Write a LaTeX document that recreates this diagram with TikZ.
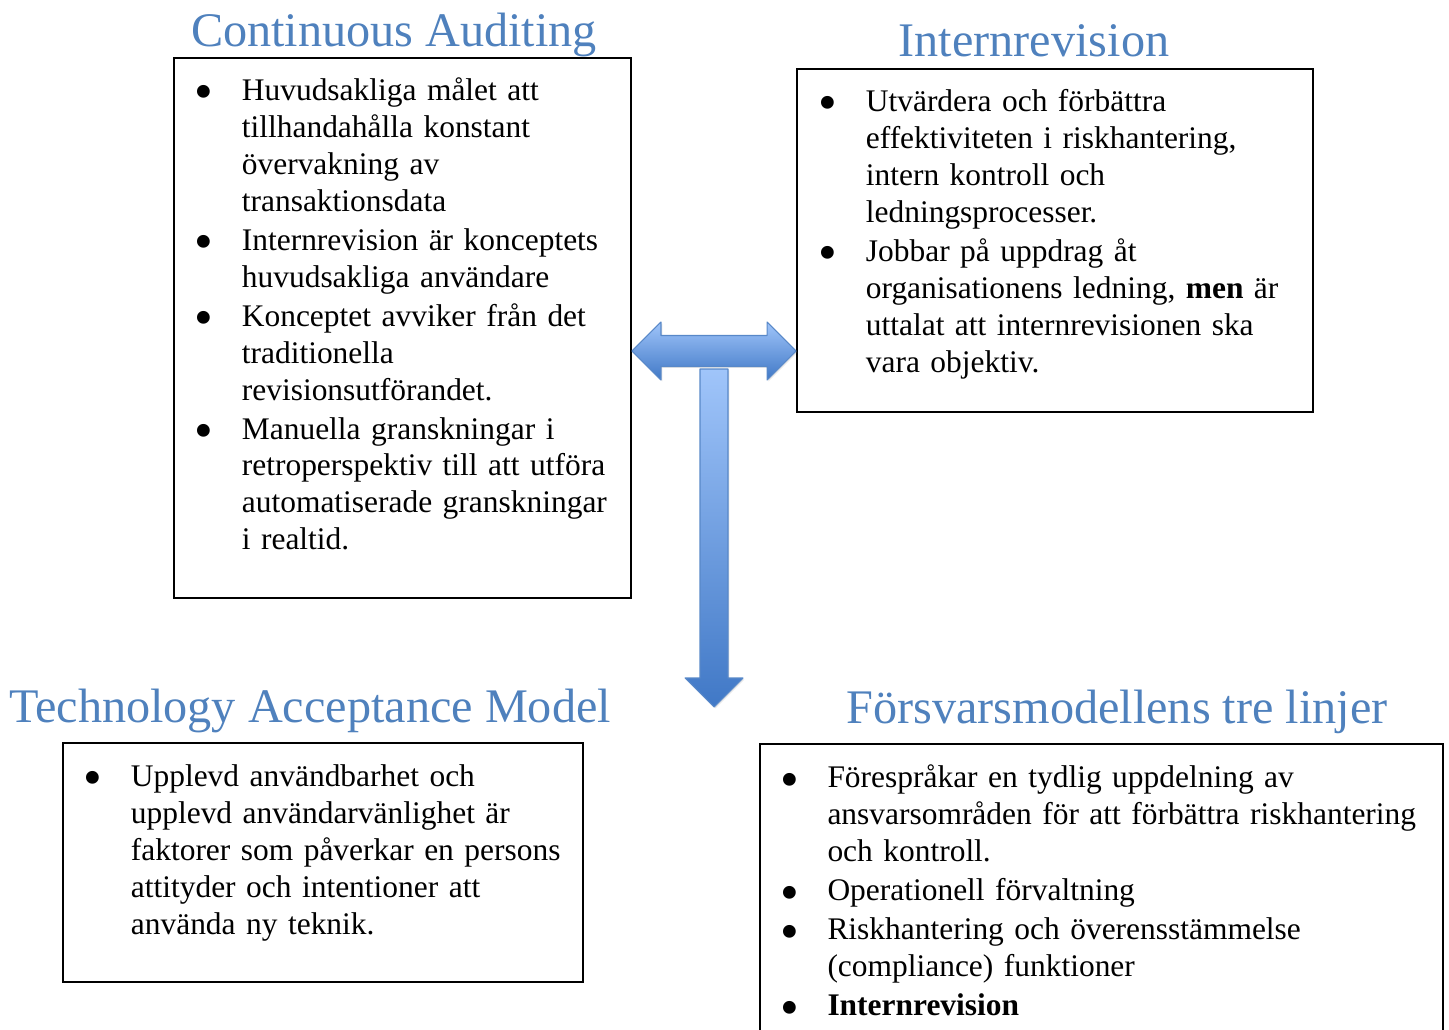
\documentclass[tikz,border=0pt]{standalone}
\usepackage{fontspec}
\setmainfont{Liberation Serif}
\usepackage{graphicx}
\usepackage{xcolor}
\usepackage{tikz}
\usetikzlibrary{calc}
\usetikzlibrary{fit}
\usetikzlibrary{shadows}
\usetikzlibrary{positioning}

\definecolor{titleblue}{RGB}{79,129,189}
\definecolor{arrowlight}{RGB}{160,197,250}
\definecolor{arrowdark}{RGB}{64,120,198}
\definecolor{arrowline}{RGB}{88,136,200}

\newlength{\itmind}
\setlength{\itmind}{0.95cm}
\newcommand{\itm}[1]{\noindent\hangindent=\itmind\hangafter=1\makebox[\itmind][l]{\raisebox{-0.3em}[0pt][0pt]{\scalebox{1.7}{\textbullet}}}#1\par}

\tikzset{
  box/.style={draw, line width=1.1pt, inner sep=0pt},
  boxtext/.style={anchor=north west, inner sep=0pt, align=left,
    font=\fontsize{17.9}{21.05}\selectfont,
    execute at begin node=\setlength{\parskip}{0.04cm}},
  heading/.style={anchor=base, inner sep=0pt, text=titleblue,
    font=\fontsize{27.45}{32}\selectfont},
  blockarrow/.style={top color=arrowlight, bottom color=arrowdark,
    draw=arrowline, line width=0.6pt, line join=round,
    drop shadow={opacity=0.2, shadow xshift=0.8pt, shadow yshift=-0.8pt}}
}

\begin{document}
\begin{tikzpicture}[x=0.02cm, y=-0.02cm]
\useasboundingbox (0,0) rectangle (1449,1030);

\node [box, fit={(174,58) (631,598)}] (ca) {};
\node [box, fit={(797,69) (1313,412)}] (ir) {};
\node [box, fit={(63,743) (583,982)}] (tam) {};
\node [inner sep=0pt, fit={(760,744) (1443,1030)}] (ftl) {};
\draw [line width=1.1pt] (ftl.south west) -- (ftl.north west) -- (ftl.north east) -- (ftl.south east);

\node [heading] (catitle) at (394,47) {Continuous Auditing};
\node [heading] (irtitle) at (1034,57) {Internrevision};
\node [heading] (tamtitle) at (310,722) {Technology Acceptance Model};
\node [heading] (ftltitle) at (1117,723) {Försvarsmodellens tre linjer};

\node [boxtext, text width=8.9cm] (catext) at ($(ca.north west)+(21,20)$) {%
\itm{Huvudsakliga målet att\newline tillhandahålla konstant\newline övervakning av\newline transaktionsdata}
\itm{Internrevision är konceptets\newline huvudsakliga användare}
\itm{Konceptet avviker från det\newline traditionella\newline revisionsutförandet.}
\itm{Manuella granskningar i\newline retroperspektiv till att utföra\newline automatiserade granskningar\newline i realtid.}};

\node [boxtext, text width=9.9cm] (irtext) at ($(ir.north west)+(22,21)$) {%
\itm{Utvärdera och förbättra\newline effektiviteten i riskhantering,\newline intern kontroll och\newline ledningsprocesser.}
\itm{Jobbar på uppdrag åt\newline organisationens ledning, \textbf{men} är\newline uttalat att internrevisionen ska\newline vara objektiv.}};

\node [boxtext, text width=10cm] (tamtext) at ($(tam.north west)+(21,22)$) {%
\itm{Upplevd användbarhet och\newline upplevd användarvänlighet är\newline faktorer som påverkar en persons\newline attityder och intentioner att\newline använda ny teknik.}};

\node [boxtext, text width=13.2cm] (ftltext) at ($(ftl.north west)+(20,21)$) {%
\itm{Förespråkar en tydlig uppdelning av\newline ansvarsområden för att förbättra riskhantering\newline och kontroll.}
\itm{Operationell förvaltning}
\itm{Riskhantering och överensstämmelse\newline (compliance) funktioner}
\itm{\textbf{Internrevision}}};

\coordinate (hmid) at (0,351);
\coordinate (vend) at (0,707);
\coordinate (hl) at (ca.east |- hmid);
\coordinate (hr) at (ir.west |- hmid);
\coordinate (vtop) at ($(hl)!0.5!(hr)+(0,18)$);
\coordinate (vtip) at (vtop |- vend);

\shade [blockarrow] (hl) -- ($(hl)+(29,-29)$) -- ($(hl)+(29,-15.5)$) -- ($(hr)+(-29,-15.5)$)
  -- ($(hr)+(-29,-29)$) -- (hr) -- ($(hr)+(-29,29)$) -- ($(hr)+(-29,15.5)$)
  -- ($(hl)+(29,15.5)$) -- ($(hl)+(29,29)$) -- cycle;
\shade [blockarrow] ($(vtop)+(-14,0)$) -- ($(vtop)+(14,0)$) -- ($(vtip)+(14,-29)$)
  -- ($(vtip)+(29,-29)$) -- (vtip) -- ($(vtip)+(-29,-29)$) -- ($(vtip)+(-14,-29)$) -- cycle;
\end{tikzpicture}
\end{document}
